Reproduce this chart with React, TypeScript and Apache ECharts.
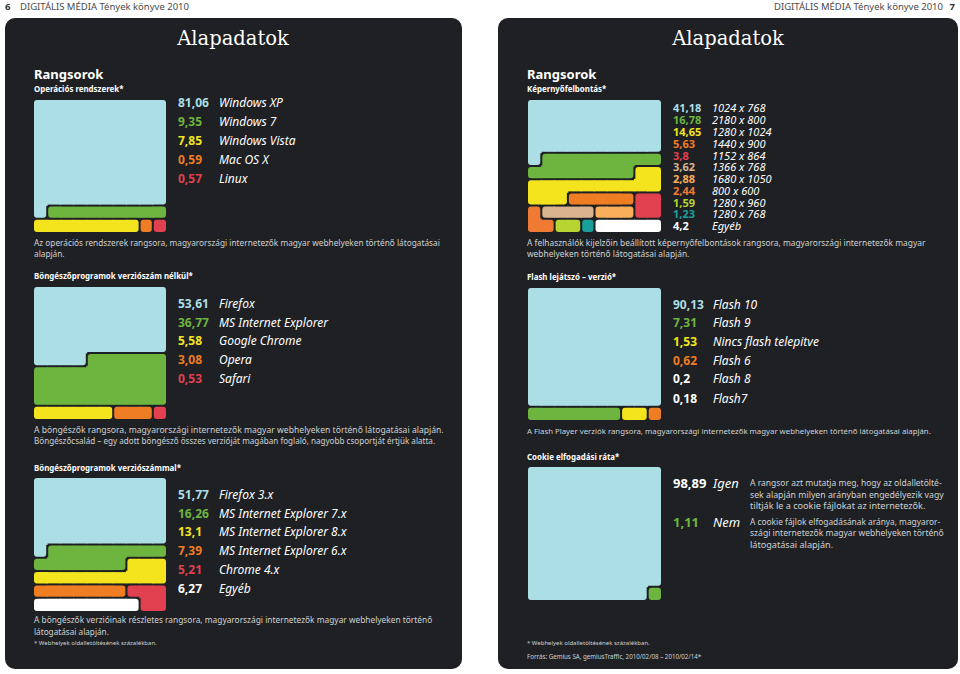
import React, { useEffect, useRef } from 'react';
import * as echarts from 'echarts';

// ---------- colours ----------
const BLUE = '#acdfe5';
const GREEN = '#6db53f';
const YELLOW = '#f3e41d';
const ORANGE = '#ef7d23';
const RED = '#e1404e';
const TAN = '#d9b48f';
const LORANGE = '#f8ae5b';
const ORANGE2 = '#ee7a34';
const LIME = '#b8d433';
const TEAL = '#1aa09c';
const WHITE = '#ffffff';

// ---------- data ----------
const osValues = [81.06, 9.35, 7.85, 0.59, 0.57];
const osLabels = ['Windows XP', 'Windows 7', 'Windows Vista', 'Mac OS X', 'Linux'];
const osColors = [BLUE, GREEN, YELLOW, ORANGE, RED];
const osCells = [
  'AAAAAAAAAA', 'AAAAAAAAAA', 'AAAAAAAAAA', 'AAAAAAAAAA', 'AAAAAAAAAA',
  'AAAAAAAAAA', 'AAAAAAAAAA', 'AAAAAAAAAA', 'ABBBBBBBBB', 'CCCCCCCCDE',
];

const brValues = [53.61, 36.77, 5.58, 3.08, 0.53];
const brLabels = ['Firefox', 'MS Internet Explorer', 'Google Chrome', 'Opera', 'Safari'];
const brColors = [BLUE, GREEN, YELLOW, ORANGE, RED];
const brCells = [
  'AAAAAAAAAA', 'AAAAAAAAAA', 'AAAAAAAAAA', 'AAAAAAAAAA', 'AAAAAAAAAA',
  'AAAABBBBBB', 'BBBBBBBBBB', 'BBBBBBBBBB', 'BBBBBBBBBB', 'CCCCCCDDDE',
];

const bvValues = [51.77, 16.26, 13.1, 7.39, 5.21, 6.27];
const bvLabels = ['Firefox 3.x', 'MS Internet Explorer 7.x', 'MS Internet Explorer 8.x', 'MS Internet Explorer 6.x', 'Chrome 4.x', 'Egyéb'];
const bvColors = [BLUE, GREEN, YELLOW, ORANGE, RED, WHITE];
const bvCells = [
  'AAAAAAAAAA', 'AAAAAAAAAA', 'AAAAAAAAAA', 'AAAAAAAAAA', 'AAAAAAAAAA',
  'ABBBBBBBBB', 'BBBBBBBCCC', 'CCCCCCCCCC', 'DDDDDDDEEE', 'FFFFFFFFEE',
];

const scValues = [41.18, 16.78, 14.65, 5.63, 3.8, 3.62, 2.88, 2.44, 1.59, 1.23, 4.2];
const scLabels = ['1024 x 768', '2180 x 800', '1280 x 1024', '1440 x 900', '1152 x 864', '1366 x 768', '1680 x 1050', '800 x 600', '1280 x 960', '1280 x 768', 'Egyéb'];
const scColors = [BLUE, GREEN, YELLOW, ORANGE, RED, TAN, LORANGE, ORANGE2, LIME, TEAL, WHITE];
const scCells = [
  'AAAAAAAAAA', 'AAAAAAAAAA', 'AAAAAAAAAA', 'AAAAAAAAAA', 'ABBBBBBBBB',
  'BBBBBBBBCC', 'CCCCCCCCCC', 'CCCDDDDDEE', 'HFFFFGGGEE', 'HHIIJKKKKK',
];

const flValues = [90.13, 7.31, 1.53, 0.62, 0.2, 0.18];
const flLabels = ['Flash 10', 'Flash 9', 'Nincs flash telepitve', 'Flash 6', 'Flash 8', 'Flash7'];
const flColors = [BLUE, GREEN, YELLOW, ORANGE, WHITE, WHITE];
const flCells = [
  'AAAAAAAAAA', 'AAAAAAAAAA', 'AAAAAAAAAA', 'AAAAAAAAAA', 'AAAAAAAAAA',
  'AAAAAAAAAA', 'AAAAAAAAAA', 'AAAAAAAAAA', 'AAAAAAAAAA', 'BBBBBBBCCD',
];

const ckValues = [98.89, 1.11];
const ckLabels = ['Igen', 'Nem'];
const ckColors = [WHITE, GREEN];
const ckCellColors = [BLUE, GREEN];
const ckCells = [
  'AAAAAAAAAA', 'AAAAAAAAAA', 'AAAAAAAAAA', 'AAAAAAAAAA', 'AAAAAAAAAA',
  'AAAAAAAAAA', 'AAAAAAAAAA', 'AAAAAAAAAA', 'AAAAAAAAAA', 'AAAAAAAAAB',
];

// ---------- layout ----------
const BG = '#1e2023';
const CAPTION = '#cfd2d4';
const SANS = '"Noto Sans", "Open Sans", sans-serif';

type Waffle = {
  cells: string[];
  colors: string[];
  box: [number, number, number, number];
};

const waffles: Waffle[] = [
  { cells: osCells, colors: osColors, box: [34, 100, 132, 132] },
  { cells: brCells, colors: brColors, box: [34, 287, 132, 132] },
  { cells: bvCells, colors: bvColors, box: [34, 478, 132, 133] },
  { cells: scCells, colors: scColors, box: [528, 100, 133, 132] },
  { cells: flCells, colors: flColors, box: [528, 288, 133, 132] },
  { cells: ckCells, colors: ckCellColors, box: [528, 467, 133, 133] },
];

const fmt = (v: number) => String(v).replace('.', ',');

function makeRender(cells: string[], colors: string[]) {
  const at = (r: number, c: number) =>
    r < 0 || r >= cells.length || c < 0 || c >= cells[r].length ? '#' : cells[r][c];
  return (params: any, api: any) => {
    const c = api.value(0);
    const r = api.value(1);
    const k = cells[r][c];
    const idx = k.charCodeAt(0) - 65;
    const p0 = api.coord([c, r]);
    const p1 = api.coord([c + 1, r + 1]);
    const g = 1;
    const side = (nr: number, nc: number) => {
      const n = at(nr, nc);
      if (n === k) return -0.4;
      if (n === '#') return 0;
      return g;
    };
    const same = (nr: number, nc: number) => at(nr, nc) === k;
    const iL = side(r, c - 1);
    const iR = side(r, c + 1);
    const iT = side(r - 1, c);
    const iB = side(r + 1, c);
    const R = 3;
    const sT = same(r - 1, c), sB = same(r + 1, c), sL = same(r, c - 1), sR = same(r, c + 1);
    const rad = [
      !sT && !sL ? R : 0,
      !sT && !sR ? R : 0,
      !sB && !sR ? R : 0,
      !sB && !sL ? R : 0,
    ];
    return {
      type: 'rect',
      shape: {
        x: p0[0] + iL,
        y: p0[1] + iT,
        width: p1[0] - p0[0] - iL - iR,
        height: p1[1] - p0[1] - iT - iB,
        r: rad,
      },
      style: { fill: colors[idx] },
    };
  };
}

function txt(x: number, y: number, text: string, style: any = {}, scaleX = 1) {
  return {
    type: 'text',
    x,
    y,
    scaleX,
    z: 10,
    silent: true,
    style: {
      text,
      fill: CAPTION,
      fontFamily: SANS,
      fontSize: 8.3,
      verticalAlign: 'middle',
      align: 'left',
      ...style,
    },
  };
}

function legend(
  values: number[],
  labels: string[],
  colors: string[],
  xNum: number,
  xLab: number,
  ys: number[],
  size: number
) {
  const out: any[] = [];
  values.forEach((v, i) => {
    out.push(txt(xNum, ys[i], fmt(v), { fill: colors[i], fontWeight: 'bold', fontSize: size, lineHeight: size }));
    out.push(txt(xLab, ys[i], labels[i], { fill: '#ffffff', fontStyle: 'italic', fontSize: size, lineHeight: size }));
  });
  return out;
}

export default function App() {
  const ref = useRef<HTMLDivElement>(null);
  useEffect(() => {
    document.body.style.margin = '0';
    const chart = echarts.init(ref.current!, null, { renderer: 'svg' });

    const grids = waffles.map((w) => ({
      left: w.box[0],
      top: w.box[1],
      width: w.box[2],
      height: w.box[3],
    }));
    const xAxis = waffles.map((_, i) => ({ type: 'value', gridIndex: i, min: 0, max: 10, show: false }));
    const yAxis = waffles.map((_, i) => ({ type: 'value', gridIndex: i, min: 0, max: 10, inverse: true, show: false }));
    const series = waffles.map((w, i) => {
      const data: number[][] = [];
      w.cells.forEach((row, r) => {
        for (let c = 0; c < row.length; c++) data.push([c, r, row.charCodeAt(c) - 65]);
      });
      return {
        type: 'custom',
        xAxisIndex: i,
        yAxisIndex: i,
        data,
        encode: { x: 0, y: 1 },
        renderItem: makeRender(w.cells, w.colors),
        silent: true,
        z: 2,
      };
    });

    const head = { fill: '#4a4a4a', fontSize: 9.5, fontFamily: SANS };
    const title = { fill: '#ffffff', fontSize: 19.5, fontFamily: '"DejaVu Serif", serif', align: 'center' };
    const h1 = { fill: '#ffffff', fontSize: 13, fontWeight: 'bold' };
    const h2 = { fill: '#ffffff', fontSize: 7.9, fontWeight: 'bold' };
    const desc = { fontSize: 9.1 };
    const foot = { fontSize: 6 };

    const graphic: any[] = [
      { type: 'rect', z: 0, silent: true, shape: { x: 5, y: 18, width: 457, height: 651, r: 10 }, style: { fill: BG } },
      { type: 'rect', z: 0, silent: true, shape: { x: 498, y: 18, width: 460, height: 651, r: 10 }, style: { fill: BG } },
      txt(5, 6, '6', { ...head, fontWeight: 'bold', fill: '#333' }),
      txt(20, 6, 'DIGITÁLIS MÉDIA Tények könyve 2010', head),
      txt(943, 6, 'DIGITÁLIS MÉDIA Tények könyve 2010', { ...head, align: 'right' }),
      txt(955, 6, '7', { ...head, fontWeight: 'bold', fill: '#333', align: 'right' }),
      txt(233, 38, 'Alapadatok', title),
      txt(728, 38, 'Alapadatok', title),

      // left page
      txt(34, 74, 'Rangsorok', h1),
      txt(34, 89, 'Operációs rendszerek*', h2),
      ...legend(osValues, osLabels, osColors, 178, 219, [102, 121, 140, 159, 178], 12),
      txt(34, 242, 'Az operációs rendszerek rangsora, magyarországi internetezők magyar webhelyeken történő látogatásai', { fontSize: 8.27 }),
      txt(34, 253, 'alapján.', { fontSize: 8.27 }),
      txt(34, 276, 'Böngészőprogramok verziószám nélkül*', h2),
      ...legend(brValues, brLabels, brColors, 178, 219, [303, 322, 340, 359, 378], 12),
      txt(34, 430, 'A böngészők rangsora, magyarországi internetezők magyar webhelyeken történő látogatásai alapján.', { fontSize: 8.6 }),
      txt(34, 440, 'Böngészőcsalád – egy adott böngésző összes verzióját magában foglaló, nagyobb csoportját értjük alatta.', { fontSize: 8.1 }),
      txt(34, 468, 'Böngészőprogramok verziószámmal*', h2),
      ...legend(bvValues, bvLabels, bvColors, 178, 219, [494, 513, 531, 550, 569, 588], 12),
      txt(34, 620, 'A böngészők verzióinak részletes rangsora, magyarországi internetezők magyar webhelyeken történő', { fontSize: 8.2 }, 1.02),
      txt(34, 631, 'látogatásai alapján.', { fontSize: 8.2 }),
      txt(34, 643, '* Webhelyek oldalletöltésének százalékban.', foot),

      // right page
      txt(527, 74, 'Rangsorok', h1),
      txt(527, 89, 'Képernyőfelbontás*', h2),
      ...legend(scValues, scLabels, scColors, 673, 712,
        [107, 119, 131, 143, 155, 166.5, 178, 190, 202, 213.5, 225], 11),
      txt(527, 242, 'A felhasználók kijelzőin beállított képernyőfelbontások rangsora, magyarországi internetezők magyar', { fontSize: 8.4 }),
      txt(527, 253, 'webhelyeken történő látogatásai alapján.', { fontSize: 8.4 }),
      txt(527, 277, 'Flash lejátszó – verzió*', h2),
      ...legend(flValues, flLabels, flColors, 673, 713, [304, 322, 341, 360, 378, 398], 12),
      txt(527, 431, 'A Flash Player verziók rangsora, magyarországi internetezők magyar webhelyeken történő látogatásai alapján.', { fontSize: 7.8 }),
      txt(527, 457, 'Cookie elfogadási ráta*', h2),
      ...legend(ckValues, ckLabels, ckColors, 673, 713, [483, 522], 13),
      txt(750, 483, 'A rangsor azt mutatja meg, hogy az oldalletölté-', desc, 0.936),
      txt(750, 494, 'sek alapján milyen arányban engedélyezik vagy', desc, 0.96),
      txt(750, 505, 'tiltják le a cookie fájlokat az internetezők.', desc),
      txt(750, 522, 'A cookie fájlok elfogadásának aránya, magyaror-', desc, 0.917),
      txt(750, 533, 'szági internetezők magyar webhelyeken történő', desc, 0.94),
      txt(750, 544, 'látogatásai alapján.', desc),
      txt(527, 643, '* Webhelyek oldalletöltésének százalékban.', foot),
      txt(527, 656, 'Forrás: Gemius SA, gemiusTraffic, 2010/02/08 – 2010/02/14*', { fontSize: 6.2 }),
    ];

    chart.setOption({
      animation: false,
      backgroundColor: '#ffffff',
      grid: grids,
      xAxis,
      yAxis,
      series,
      graphic,
    });
    return () => chart.dispose();
  }, []);
  return <div ref={ref} style={{ width: 960, height: 674 }} />;
}
